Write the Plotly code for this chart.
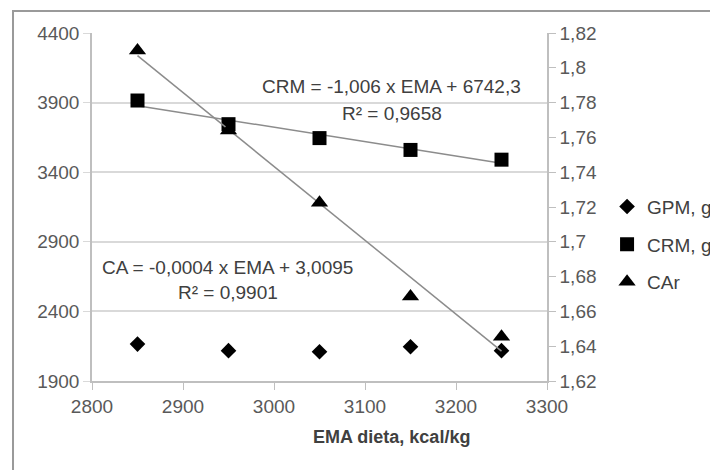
import numpy as np
import plotly.graph_objects as go

# ---- data ----
ema = [2850, 2950, 3050, 3150, 3250]
gpm = [2165, 2118, 2110, 2146, 2118]
crm = [3915, 3745, 3645, 3560, 3490]
car = [1.810, 1.764, 1.7225, 1.6685, 1.6455]

x_ticks = [2800, 2900, 3000, 3100, 3200, 3300]
y_ticks = [1900, 2400, 2900, 3400, 3900, 4400]
y2_ticks = [1.62, 1.64, 1.66, 1.68, 1.70, 1.72, 1.74, 1.76, 1.78, 1.80, 1.82]
y2_labels = ["1,62", "1,64", "1,66", "1,68", "1,7", "1,72", "1,74", "1,76", "1,78", "1,8", "1,82"]

eq_crm = ["CRM = -1,006 x EMA + 6742,3", "R² = 0,9658"]
eq_ca = ["CA = -0,0004 x EMA + 3,0095", "R² = 0,9901"]
x_title = "EMA dieta, kcal/kg"

FONT = "Liberation Sans, Arial, sans-serif"
TXT = "#404040"
TICK = "#595959"

# trend lines from least squares fits
xfit = np.array([min(ema), max(ema)])
c_crm = np.polyfit(ema, crm, 1)
c_car = np.polyfit(ema, car, 1)

fig = go.Figure()
fig.add_trace(go.Scatter(x=xfit, y=np.polyval(c_crm, xfit), mode="lines",
                         line=dict(color="#8c8c8c", width=1.5), showlegend=False,
                         hoverinfo="skip"))
fig.add_trace(go.Scatter(x=ema, y=gpm, mode="markers", name="GPM, g",
                         marker=dict(symbol="diamond", size=12, color="black"),
                         legendgroup="a"))
fig.add_trace(go.Scatter(x=ema, y=crm, mode="markers", name="CRM, g",
                         marker=dict(symbol="square", size=14, color="black"),
                         legendgroup="b"))
fig.add_trace(go.Scatter(x=xfit, y=np.polyval(c_car, xfit), mode="lines",
                         line=dict(color="#8c8c8c", width=1.5), showlegend=False,
                         yaxis="y2", hoverinfo="skip"))
fig.add_trace(go.Scatter(x=ema, y=car, mode="markers", name="CAr",
                         marker=dict(symbol="triangle-up", size=15, color="black"),
                         yaxis="y2", legendgroup="c"))

ann_font = dict(family=FONT, size=19, color=TXT)
annotations = [
    dict(x=0.659, y=0.845, text=eq_crm[0]),
    dict(x=0.659, y=0.770, text=eq_crm[1]),
    dict(x=0.298, y=0.325, text=eq_ca[0]),
    dict(x=0.298, y=0.253, text=eq_ca[1]),
]
for a in annotations:
    a.update(xref="paper", yref="paper", showarrow=False, font=ann_font,
             xanchor="center", yanchor="middle")
annotations.append(dict(x=0.659, y=-0.161, xref="paper", yref="paper", showarrow=False,
                        text="<b>" + x_title + "</b>", xanchor="center", yanchor="middle",
                        font=dict(family=FONT, size=18, color=TXT)))

fig.update_layout(
    width=718, height=470,
    margin=dict(l=84, r=179, t=25, b=97, autoexpand=False),
    paper_bgcolor="white", plot_bgcolor="white",
    font=dict(family=FONT, size=19, color=TICK),
    xaxis=dict(range=[2800, 3300], tickvals=x_ticks, ticktext=[str(v) for v in x_ticks],
               showgrid=False, showline=True, linecolor="#bfbfbf", linewidth=1.5,
               ticks="outside", ticklen=7, tickcolor="#bfbfbf", zeroline=False,
               tickfont=dict(family=FONT, size=19, color=TICK)),
    yaxis=dict(range=[1900, 4400], tickvals=y_ticks, ticktext=[str(v) for v in y_ticks],
               showgrid=True, gridcolor="#d9d9d9", gridwidth=1.5,
               showline=True, linecolor="#bfbfbf", linewidth=1.5,
               ticks="outside", ticklen=7, tickcolor="#d9d9d9", zeroline=False,
               tickfont=dict(family=FONT, size=19, color=TICK)),
    yaxis2=dict(range=[1.62, 1.82], tickvals=y2_ticks, ticktext=y2_labels,
                overlaying="y", side="right", showgrid=False,
                showline=True, linecolor="#bfbfbf", linewidth=1.5,
                ticks="outside", ticklen=7, tickcolor="#bfbfbf", zeroline=False,
                tickfont=dict(family=FONT, size=19, color=TICK)),
    legend=dict(x=1.132, y=0.392, xanchor="left", yanchor="middle",
                font=dict(family=FONT, size=19, color=TXT),
                traceorder="grouped", tracegroupgap=10, bgcolor="rgba(0,0,0,0)"),
    annotations=annotations,
    shapes=[dict(type="rect", xref="paper", yref="paper",
                 x0=-0.1736, x1=1.6, y0=-0.6, y1=1.063,
                 line=dict(color="#9a9a9a", width=2), layer="below")],
    showlegend=True,
)

fig.write_html("out.html")
